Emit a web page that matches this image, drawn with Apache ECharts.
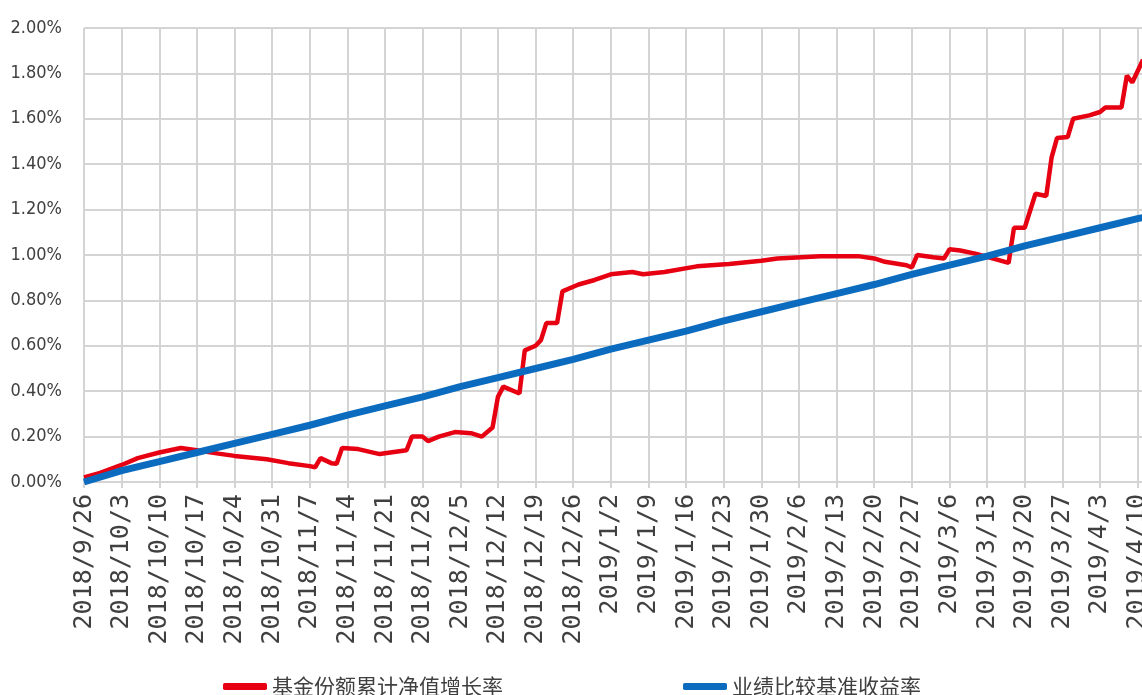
<!DOCTYPE html>
<html>
<head>
<meta charset="utf-8">
<script src="https://cdn.jsdelivr.net/npm/echarts@6/dist/echarts.min.js"></script>
<style>
  html, body { margin: 0; padding: 0; background: #fff; }
  #chart { width: 1142px; height: 695px; }
</style>
</head>
<body>
<div id="chart"></div>
<script>
// 周度刻度标签
const weekLabels = [
  '2018/9/26', '2018/10/3', '2018/10/10', '2018/10/17', '2018/10/24', '2018/10/31',
  '2018/11/7', '2018/11/14', '2018/11/21', '2018/11/28', '2018/12/5', '2018/12/12',
  '2018/12/19', '2018/12/26', '2019/1/2', '2019/1/9', '2019/1/16', '2019/1/23',
  '2019/1/30', '2019/2/6', '2019/2/13', '2019/2/20', '2019/2/27', '2019/3/6',
  '2019/3/13', '2019/3/20', '2019/3/27', '2019/4/3', '2019/4/10'
]

// 业绩比较基准收益率 (%), 对应每个周度标签, 最后一个为 2019/4/11
const benchDates = weekLabels.concat(['2019/4/11'])
const benchValues = [
  0.00, 0.05, 0.09, 0.13, 0.17, 0.21, 0.25, 0.295, 0.335, 0.375, 0.42, 0.46,
  0.50, 0.54, 0.585, 0.625, 0.665, 0.71, 0.75, 0.79, 0.83, 0.87, 0.915, 0.955,
  0.995, 1.04, 1.08, 1.12, 1.16, 1.165
]

// 基金份额累计净值增长率 (%)
const fundDates = [
  '2018/9/26', '2018/9/29', '2018/10/3', '2018/10/6', '2018/10/10', '2018/10/14',
  '2018/10/17', '2018/10/21', '2018/10/24', '2018/10/30', '2018/11/3', '2018/11/7',
  '2018/11/8', '2018/11/9', '2018/11/11', '2018/11/12', '2018/11/13', '2018/11/16',
  '2018/11/20', '2018/11/22', '2018/11/25', '2018/11/26', '2018/11/28', '2018/11/29',
  '2018/12/1', '2018/12/4', '2018/12/7', '2018/12/9', '2018/12/11', '2018/12/12',
  '2018/12/13', '2018/12/16', '2018/12/17', '2018/12/19', '2018/12/20', '2018/12/21',
  '2018/12/23', '2018/12/24', '2018/12/27', '2018/12/30', '2019/1/2', '2019/1/6',
  '2019/1/8', '2019/1/12', '2019/1/18', '2019/1/24', '2019/1/30', '2019/2/2',
  '2019/2/10', '2019/2/17', '2019/2/20', '2019/2/22', '2019/2/26', '2019/2/27',
  '2019/2/28', '2019/3/3', '2019/3/5', '2019/3/6', '2019/3/8', '2019/3/11',
  '2019/3/14', '2019/3/17', '2019/3/18', '2019/3/20', '2019/3/22', '2019/3/24',
  '2019/3/25', '2019/3/26', '2019/3/28', '2019/3/29', '2019/4/1', '2019/4/3',
  '2019/4/4', '2019/4/7', '2019/4/8', '2019/4/9', '2019/4/11'
]
const fundValues = [
  0.02, 0.04, 0.075, 0.105, 0.13, 0.15,
  0.14, 0.125, 0.115, 0.10, 0.083, 0.07,
  0.065, 0.105, 0.083, 0.08, 0.15, 0.145,
  0.123, 0.13, 0.14, 0.20, 0.20, 0.18,
  0.20, 0.22, 0.215, 0.20, 0.24, 0.375,
  0.42, 0.39, 0.58, 0.60, 0.625, 0.70,
  0.70, 0.84, 0.87, 0.89, 0.915, 0.925,
  0.915, 0.925, 0.95, 0.96, 0.975, 0.985,
  0.995, 0.995, 0.985, 0.97, 0.955, 0.945,
  1.00, 0.99, 0.985, 1.025, 1.02, 1.005,
  0.985, 0.965, 1.12, 1.12, 1.27, 1.26,
  1.43, 1.515, 1.52, 1.60, 1.615, 1.63,
  1.65, 1.65, 1.79, 1.76, 1.86
]

const startDay = new Date(2018, 8, 26)
function dayIndex(s) {
  const p = s.split('/')
  return Math.round((new Date(+p[0], +p[1] - 1, +p[2]) - startDay) / 86400000)
}

const fundData = fundDates.map((d, i) => [dayIndex(d), fundValues[i]])
const benchData = benchDates.map((d, i) => [dayIndex(d), benchValues[i]])

const gridColor = '#d4d4d4'
const textColor = '#404040'

const myChart = echarts.init(document.getElementById('chart'))
myChart.setOption({
  animation: false,
  backgroundColor: '#fff',
  grid: {
    left: 84, right: -1, top: 28, bottom: 213,
    containLabel: false,
    outerBoundsMode: 'none'
  },
  legend: {
    data: ['基金份额累计净值增长率', '业绩比较基准收益率'],
    left: 218,
    top: 671,
    icon: 'roundRect',
    itemWidth: 44,
    itemHeight: 7,
    itemGap: 180,
    textStyle: {
      fontFamily: 'Noto Sans CJK SC',
      fontSize: 21,
      color: textColor
    }
  },
  xAxis: {
    type: 'value',
    min: 0,
    max: 197,
    interval: 7,
    axisLine: { show: true, lineStyle: { color: gridColor, width: 2 } },
    axisTick: { show: true, length: 6, lineStyle: { color: gridColor, width: 2 } },
    splitLine: { show: true, lineStyle: { color: gridColor, width: 2 } },
    axisLabel: {
      rotate: 90,
      margin: 12,
      fontFamily: 'DejaVu Sans Mono',
      fontSize: 25,
      color: textColor,
      formatter: (v) => (v % 7 === 0 && weekLabels[v / 7]) ? weekLabels[v / 7] : ''
    }
  },
  yAxis: {
    type: 'value',
    min: 0,
    max: 2,
    interval: 0.2,
    axisLine: { show: false },
    axisTick: { show: false },
    splitLine: { show: true, lineStyle: { color: gridColor, width: 2 } },
    axisLabel: {
      margin: 22,
      fontFamily: "'DejaVu Sans Condensed', 'Liberation Sans', sans-serif",
      fontSize: 18,
      color: textColor,
      formatter: (v) => v.toFixed(2) + '%'
    }
  },
  series: [
    {
      name: '基金份额累计净值增长率',
      type: 'line',
      data: fundData,
      showSymbol: false,
      color: '#e60012',
      lineStyle: { color: '#e60012', width: 4.5 }
    },
    {
      name: '业绩比较基准收益率',
      type: 'line',
      data: benchData,
      showSymbol: false,
      color: '#0b6cbf',
      lineStyle: { color: '#0b6cbf', width: 7 }
    }
  ]
})
</script>
</body>
</html>
